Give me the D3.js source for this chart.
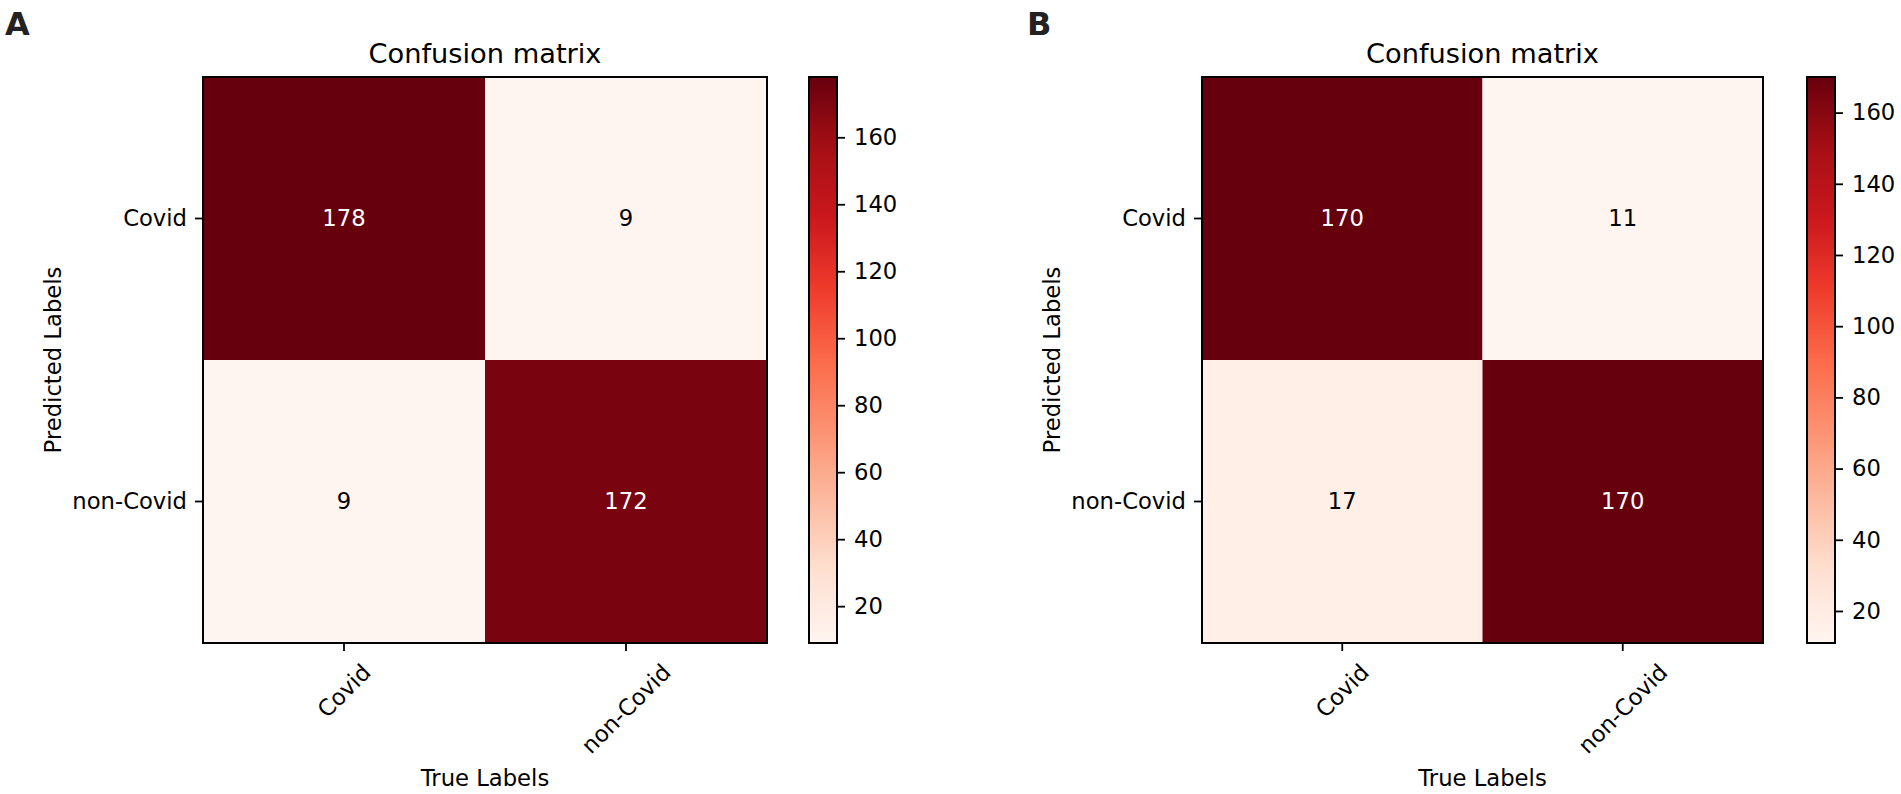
<!DOCTYPE html>
<html><head><meta charset="utf-8">
<script src="https://cdn.jsdelivr.net/npm/d3@7"></script>
<style>
body{margin:0;background:#fff}
svg{display:block}
text{font-family:"DejaVu Sans",sans-serif}
</style>
</head><body>
<svg id="c" width="1901" height="794"></svg>
<script>
// ---- data ----
const panelLetters = ["A", "B"];
const predLabels = ["Covid", "non-Covid"];   // rows (y)
const trueLabels = ["Covid", "non-Covid"];   // columns (x)
const valuesA = [[178, 9], [9, 172]];
const valuesB = [[170, 11], [17, 170]];
const cbarTicks = [20, 40, 60, 80, 100, 120, 140, 160];
const titleText = "Confusion matrix";
const xTitle = "True Labels";
const yTitle = "Predicted Labels";

// ---- styling ----
const redsStops = ["#fff5f0","#fee0d2","#fcbba1","#fc9272","#fb6a4a","#ef3b2c","#cb181d","#a50f15","#67000d"];
const reds = d3.piecewise(d3.interpolateRgb, redsStops);
const FS = 22.7;
const TOP = 77, BOTTOM = 643, CBW = 28, TICK = 8, PAD = 8;
const layouts = [
  {x0: 203, x1: 767, cb: 809, letterX: 5},
  {x0: 1202, x1: 1763, cb: 1807, letterX: 1027}
];
const panelValues = [valuesA, valuesB];

const svg = d3.select("#c");
const defs = svg.append("defs");

panelValues.forEach((vals, i) => {
  const L = layouts[i];
  const flat = vals.flat();
  const [vmin, vmax] = d3.extent(flat);
  const norm = v => (v - vmin) / (vmax - vmin);
  const thresh = vmax / 2;

  const x = d3.scaleBand().domain(trueLabels).range([L.x0, L.x1]);
  const y = d3.scaleBand().domain(predLabels).range([TOP, BOTTOM]);
  const g = svg.append("g");

  const cells = [];
  predLabels.forEach((r, ri) => trueLabels.forEach((c, ci) => cells.push({r, c, v: vals[ri][ci]})));

  g.selectAll("rect.cell").data(cells).join("rect")
    .attr("class", "cell")
    .attr("x", d => x(d.c)).attr("y", d => y(d.r))
    .attr("width", x.bandwidth()).attr("height", y.bandwidth())
    .attr("fill", d => reds(norm(d.v)));

  g.selectAll("text.val").data(cells).join("text")
    .attr("class", "val")
    .attr("x", d => x(d.c) + x.bandwidth() / 2)
    .attr("y", d => y(d.r) + y.bandwidth() / 2)
    .attr("dy", "0.35em")
    .attr("text-anchor", "middle")
    .attr("font-size", FS)
    .attr("fill", d => d.v > thresh ? "#fff" : "#000")
    .text(d => d.v);

  g.append("rect")
    .attr("x", L.x0).attr("y", TOP)
    .attr("width", L.x1 - L.x0).attr("height", BOTTOM - TOP)
    .attr("fill", "none").attr("stroke", "#000").attr("stroke-width", 2);

  // y axis
  const ya = g.append("g").attr("transform", `translate(${L.x0},0)`)
    .call(d3.axisLeft(y).tickSize(TICK).tickPadding(PAD));
  ya.select(".domain").remove();
  ya.selectAll("line").attr("stroke", "#000").attr("stroke-width", 1.8);
  ya.selectAll("text").attr("font-size", FS).attr("fill", "#000")
    .attr("font-family", '"DejaVu Sans",sans-serif');

  // x axis
  const xa = g.append("g").attr("transform", `translate(0,${BOTTOM})`)
    .call(d3.axisBottom(x).tickSize(TICK).tickPadding(PAD));
  xa.select(".domain").remove();
  xa.selectAll("line").attr("stroke", "#000").attr("stroke-width", 1.8);
  xa.selectAll("text").attr("font-size", FS).attr("fill", "#000")
    .attr("font-family", '"DejaVu Sans",sans-serif')
    .attr("text-anchor", "middle")
    .attr("y", 0).attr("dy", "0.35em")
    .attr("transform", function() {
      const w = this.getComputedTextLength();
      const h = 1.16 * FS;
      const cy = TICK + PAD + (w + h) * Math.SQRT1_2 / 2;
      return `translate(0,${cy}) rotate(-45)`;
    });

  // titles
  const cx = (L.x0 + L.x1) / 2;
  g.append("text").attr("x", cx).attr("y", 63).attr("text-anchor", "middle")
    .attr("font-size", FS * 1.2).text(titleText);
  g.append("text").attr("x", cx).attr("y", 786).attr("text-anchor", "middle")
    .attr("font-size", FS).text(xTitle);
  g.append("text").attr("transform", `translate(${L.x0 - 142},${(TOP + BOTTOM) / 2}) rotate(-90)`)
    .attr("text-anchor", "middle").attr("font-size", FS).text(yTitle);

  // panel letter
  svg.append("text").attr("x", L.letterX).attr("y", 35)
    .attr("font-family", '"Liberation Sans",Arial,sans-serif')
    .attr("font-weight", "bold").attr("font-size", 32).attr("fill", "#222")
    .text(panelLetters[i]);

  // colorbar
  const gid = "grad" + i;
  const grad = defs.append("linearGradient").attr("id", gid)
    .attr("x1", 0).attr("y1", 1).attr("x2", 0).attr("y2", 0);
  d3.range(0, 1.0001, 0.02).forEach(t => {
    grad.append("stop").attr("offset", t).attr("stop-color", reds(t));
  });
  const cs = d3.scaleLinear().domain([vmin, vmax]).range([BOTTOM, TOP]);
  g.append("rect").attr("x", L.cb).attr("y", TOP)
    .attr("width", CBW).attr("height", BOTTOM - TOP)
    .attr("fill", `url(#${gid})`).attr("stroke", "#000").attr("stroke-width", 2);
  const ca = g.append("g").attr("transform", `translate(${L.cb + CBW},0)`)
    .call(d3.axisRight(cs).tickValues(cbarTicks).tickSize(TICK).tickPadding(9));
  ca.select(".domain").remove();
  ca.selectAll("line").attr("stroke", "#000").attr("stroke-width", 1.8);
  ca.selectAll("text").attr("font-size", FS).attr("fill", "#000")
    .attr("font-family", '"DejaVu Sans",sans-serif');
});
</script>
</body></html>
